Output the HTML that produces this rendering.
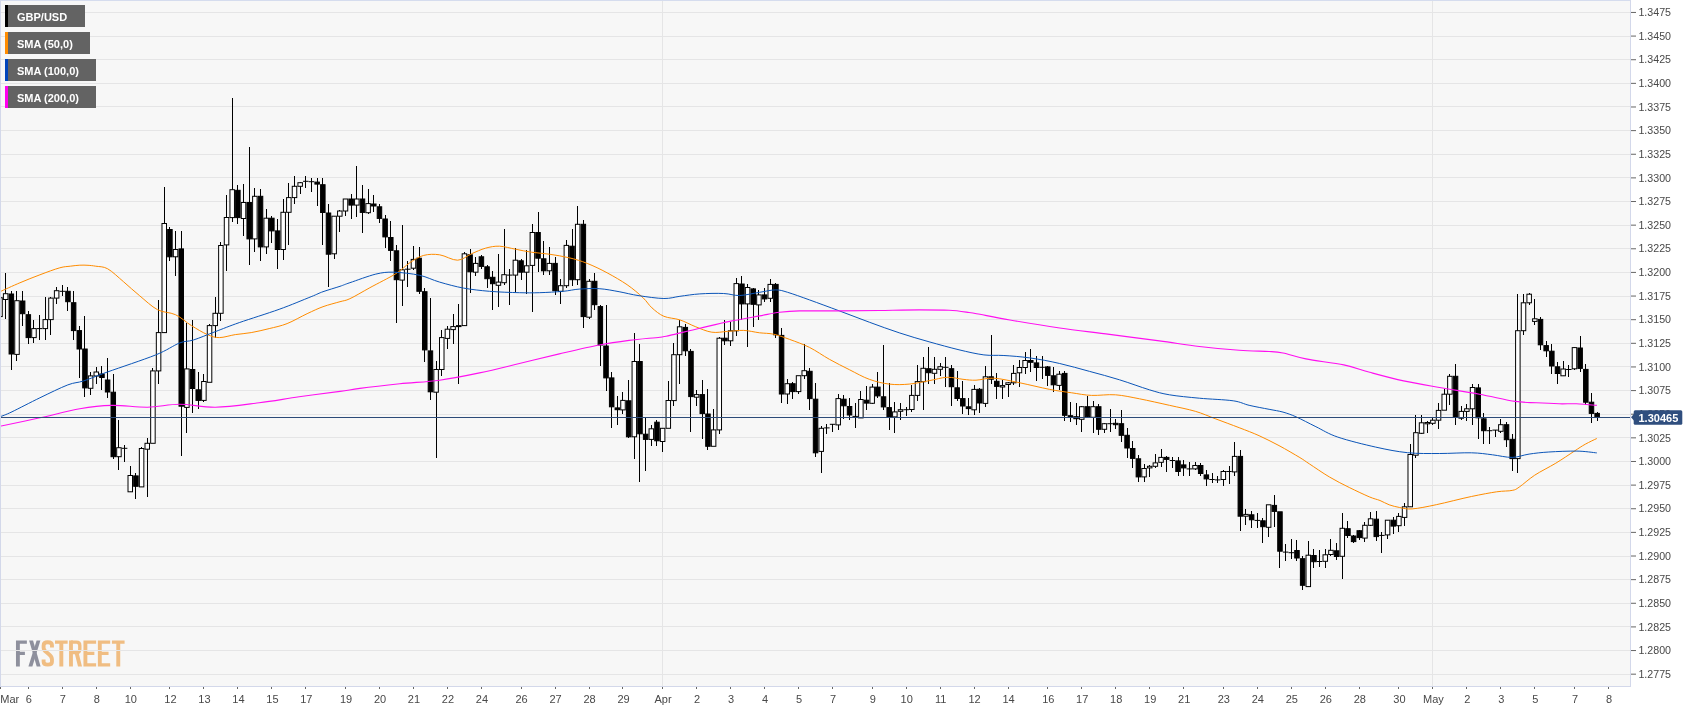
<!DOCTYPE html><html><head><meta charset="utf-8"><title>GBP/USD</title><style>
html,body{margin:0;padding:0;background:#fff;}body{width:1707px;height:712px;overflow:hidden;position:relative;font-family:"Liberation Sans",sans-serif;}
svg{position:absolute;left:0;top:0;display:block;will-change:transform}
.ax{font-family:"Liberation Sans",sans-serif;font-size:10.67px;fill:#484848}
.lg{font-family:"Liberation Sans",sans-serif;font-size:11px;font-weight:bold;fill:#fff}
</style></head><body>
<svg width="1707" height="712" viewBox="0 0 1707 712">
<rect x="0" y="0" width="1707" height="712" fill="#fff"/>
<rect x="0" y="0" width="1631" height="687" fill="#f7f7f7"/>
<g transform="translate(10,634) scale(0.0703)">
<g fill="#8e909d">
<path d="M85,92 H240 V138 H140 V252 H212 V298 H140 V462 H85 Z"/>
<path d="M272,92 H328 L435,462 H380 Z"/>
<path d="M378,92 H432 L318,462 H262 Z"/>
</g>
<g fill="#f0bd82">
<path d="M597,192 L597,160 Q597,118 537,118 Q478,118 478,162 L478,195 Q478,228 520,260 L558,292 Q597,324 597,362 L597,394 Q597,436 537,436 Q478,436 478,394 L478,362" fill="none" stroke="#f0bd82" stroke-width="55"/>
<path d="M640,92 H820 V138 H758 V462 H702 V138 H640 Z"/>
<path d="M840,92 H895 V462 H840 Z"/>
<path d="M868,115 L945,115 Q993,115 993,163 L993,217 Q993,265 945,265 L868,265" fill="none" stroke="#f0bd82" stroke-width="48"/>
<path d="M922,280 L975,268 L1024,462 L967,462 Z"/>
<path d="M1045,92 H1225 V138 H1100 V252 H1200 V298 H1100 V416 H1225 V462 H1045 Z"/>
<path d="M1250,92 H1425 V138 H1305 V252 H1402 V298 H1305 V416 H1425 V462 H1250 Z"/>
<path d="M1450,92 H1630 V138 H1568 V462 H1512 V138 H1450 Z"/>
</g>
</g>

<g fill="#e5e5e6" shape-rendering="crispEdges">
<rect x="1" y="12" width="1629" height="1"/>
<rect x="1" y="36" width="1629" height="1"/>
<rect x="1" y="59" width="1629" height="1"/>
<rect x="1" y="83" width="1629" height="1"/>
<rect x="1" y="106" width="1629" height="1"/>
<rect x="1" y="130" width="1629" height="1"/>
<rect x="1" y="154" width="1629" height="1"/>
<rect x="1" y="177" width="1629" height="1"/>
<rect x="1" y="201" width="1629" height="1"/>
<rect x="1" y="225" width="1629" height="1"/>
<rect x="1" y="248" width="1629" height="1"/>
<rect x="1" y="272" width="1629" height="1"/>
<rect x="1" y="296" width="1629" height="1"/>
<rect x="1" y="319" width="1629" height="1"/>
<rect x="1" y="343" width="1629" height="1"/>
<rect x="1" y="366" width="1629" height="1"/>
<rect x="1" y="390" width="1629" height="1"/>
<rect x="1" y="414" width="1629" height="1"/>
<rect x="1" y="437" width="1629" height="1"/>
<rect x="1" y="461" width="1629" height="1"/>
<rect x="1" y="485" width="1629" height="1"/>
<rect x="1" y="508" width="1629" height="1"/>
<rect x="1" y="532" width="1629" height="1"/>
<rect x="1" y="556" width="1629" height="1"/>
<rect x="1" y="579" width="1629" height="1"/>
<rect x="1" y="603" width="1629" height="1"/>
<rect x="1" y="626" width="1629" height="1"/>
<rect x="1" y="650" width="1629" height="1"/>
<rect x="1" y="674" width="1629" height="1"/>
<rect x="662" y="1" width="1" height="685"/>
<rect x="1432" y="1" width="1" height="685"/>
</g>
<g id="candles">
<rect x="0" y="290.0" width="1" height="30.0" fill="#000" shape-rendering="crispEdges"/>
<rect x="-2.25" y="297.7" width="4.5" height="18.9" fill="#fff" stroke="#000" stroke-width="1"/>
<rect x="5" y="273.4" width="1" height="45.6" fill="#000" shape-rendering="crispEdges"/>
<rect x="3.41" y="293.7" width="4.5" height="5.8" fill="#fff" stroke="#000" stroke-width="1"/>
<rect x="11" y="290.7" width="1" height="78.8" fill="#000" shape-rendering="crispEdges"/>
<rect x="9.08" y="294.0" width="4.5" height="60.0" fill="#000" stroke="#000" stroke-width="1"/>
<rect x="16" y="290.7" width="1" height="70.3" fill="#000" shape-rendering="crispEdges"/>
<rect x="14.74" y="300.7" width="4.5" height="53.7" fill="#fff" stroke="#000" stroke-width="1"/>
<rect x="22" y="290.7" width="1" height="34.9" fill="#000" shape-rendering="crispEdges"/>
<rect x="20.40" y="301.0" width="4.5" height="12.7" fill="#000" stroke="#000" stroke-width="1"/>
<rect x="28" y="310.7" width="1" height="33.3" fill="#000" shape-rendering="crispEdges"/>
<rect x="26.07" y="314.7" width="4.5" height="22.9" fill="#000" stroke="#000" stroke-width="1"/>
<rect x="33" y="319.6" width="1" height="23.4" fill="#000" shape-rendering="crispEdges"/>
<rect x="31.73" y="328.6" width="4.5" height="9.0" fill="#fff" stroke="#000" stroke-width="1"/>
<rect x="39" y="314.7" width="1" height="24.9" fill="#000" shape-rendering="crispEdges"/>
<rect x="36.90" y="328.1" width="5.5" height="1" fill="#000"/>
<rect x="45" y="296.7" width="1" height="42.9" fill="#000" shape-rendering="crispEdges"/>
<rect x="43.06" y="319.6" width="4.5" height="9.0" fill="#fff" stroke="#000" stroke-width="1"/>
<rect x="50" y="296.7" width="1" height="37.9" fill="#000" shape-rendering="crispEdges"/>
<rect x="48.72" y="298.1" width="4.5" height="21.5" fill="#fff" stroke="#000" stroke-width="1"/>
<rect x="56" y="287.1" width="1" height="16.6" fill="#000" shape-rendering="crispEdges"/>
<rect x="54.39" y="290.7" width="4.5" height="7.4" fill="#fff" stroke="#000" stroke-width="1"/>
<rect x="62" y="285.3" width="1" height="10.4" fill="#000" shape-rendering="crispEdges"/>
<rect x="59.55" y="290.8" width="5.5" height="1" fill="#000"/>
<rect x="67" y="287.1" width="1" height="24.2" fill="#000" shape-rendering="crispEdges"/>
<rect x="65.71" y="291.3" width="4.5" height="10.4" fill="#000" stroke="#000" stroke-width="1"/>
<rect x="73" y="291.3" width="1" height="48.3" fill="#000" shape-rendering="crispEdges"/>
<rect x="71.38" y="302.7" width="4.5" height="27.9" fill="#000" stroke="#000" stroke-width="1"/>
<rect x="79" y="326.0" width="1" height="52.0" fill="#000" shape-rendering="crispEdges"/>
<rect x="77.04" y="330.6" width="4.5" height="18.4" fill="#000" stroke="#000" stroke-width="1"/>
<rect x="84" y="316.4" width="1" height="81.0" fill="#000" shape-rendering="crispEdges"/>
<rect x="82.70" y="349.0" width="4.5" height="38.9" fill="#000" stroke="#000" stroke-width="1"/>
<rect x="90" y="372.0" width="1" height="23.4" fill="#000" shape-rendering="crispEdges"/>
<rect x="88.37" y="375.9" width="4.5" height="12.4" fill="#fff" stroke="#000" stroke-width="1"/>
<rect x="96" y="367.0" width="1" height="17.3" fill="#000" shape-rendering="crispEdges"/>
<rect x="94.03" y="372.0" width="4.5" height="4.0" fill="#fff" stroke="#000" stroke-width="1"/>
<rect x="101" y="366.0" width="1" height="24.0" fill="#000" shape-rendering="crispEdges"/>
<rect x="99.69" y="374.0" width="4.5" height="3.5" fill="#000" stroke="#000" stroke-width="1"/>
<rect x="107" y="358.3" width="1" height="39.9" fill="#000" shape-rendering="crispEdges"/>
<rect x="105.36" y="380.0" width="4.5" height="12.0" fill="#000" stroke="#000" stroke-width="1"/>
<rect x="113" y="374.3" width="1" height="84.9" fill="#000" shape-rendering="crispEdges"/>
<rect x="111.02" y="392.2" width="4.5" height="64.5" fill="#000" stroke="#000" stroke-width="1"/>
<rect x="118" y="420.4" width="1" height="49.9" fill="#000" shape-rendering="crispEdges"/>
<rect x="116.69" y="447.7" width="4.5" height="9.0" fill="#fff" stroke="#000" stroke-width="1"/>
<rect x="124" y="445.3" width="1" height="17.0" fill="#000" shape-rendering="crispEdges"/>
<rect x="121.85" y="447.8" width="5.5" height="1" fill="#000"/>
<rect x="130" y="466.2" width="1" height="25.6" fill="#000" shape-rendering="crispEdges"/>
<rect x="128.01" y="475.5" width="4.5" height="16.3" fill="#fff" stroke="#000" stroke-width="1"/>
<rect x="135" y="473.3" width="1" height="26.1" fill="#000" shape-rendering="crispEdges"/>
<rect x="133.68" y="475.9" width="4.5" height="10.4" fill="#000" stroke="#000" stroke-width="1"/>
<rect x="141" y="446.5" width="1" height="40.4" fill="#000" shape-rendering="crispEdges"/>
<rect x="139.34" y="448.5" width="4.5" height="38.4" fill="#fff" stroke="#000" stroke-width="1"/>
<rect x="147" y="438.3" width="1" height="59.1" fill="#000" shape-rendering="crispEdges"/>
<rect x="145.00" y="443.3" width="4.5" height="5.9" fill="#fff" stroke="#000" stroke-width="1"/>
<rect x="152" y="367.5" width="1" height="75.8" fill="#000" shape-rendering="crispEdges"/>
<rect x="150.67" y="370.9" width="4.5" height="72.4" fill="#fff" stroke="#000" stroke-width="1"/>
<rect x="158" y="299.7" width="1" height="83.8" fill="#000" shape-rendering="crispEdges"/>
<rect x="156.33" y="332.6" width="4.5" height="38.3" fill="#fff" stroke="#000" stroke-width="1"/>
<rect x="164" y="187.3" width="1" height="145.3" fill="#000" shape-rendering="crispEdges"/>
<rect x="161.99" y="223.5" width="4.5" height="109.1" fill="#fff" stroke="#000" stroke-width="1"/>
<rect x="169" y="226.9" width="1" height="34.5" fill="#000" shape-rendering="crispEdges"/>
<rect x="167.66" y="229.5" width="4.5" height="27.3" fill="#000" stroke="#000" stroke-width="1"/>
<rect x="175" y="230.9" width="1" height="45.3" fill="#000" shape-rendering="crispEdges"/>
<rect x="173.32" y="249.5" width="4.5" height="7.3" fill="#fff" stroke="#000" stroke-width="1"/>
<rect x="181" y="230.9" width="1" height="225.4" fill="#000" shape-rendering="crispEdges"/>
<rect x="178.99" y="248.9" width="4.5" height="157.3" fill="#000" stroke="#000" stroke-width="1"/>
<rect x="186" y="322.6" width="1" height="110.7" fill="#000" shape-rendering="crispEdges"/>
<rect x="184.65" y="368.9" width="4.5" height="38.5" fill="#fff" stroke="#000" stroke-width="1"/>
<rect x="192" y="319.6" width="1" height="93.8" fill="#000" shape-rendering="crispEdges"/>
<rect x="190.31" y="369.5" width="4.5" height="19.0" fill="#000" stroke="#000" stroke-width="1"/>
<rect x="198" y="372.3" width="1" height="37.1" fill="#000" shape-rendering="crispEdges"/>
<rect x="195.98" y="389.8" width="4.5" height="10.6" fill="#000" stroke="#000" stroke-width="1"/>
<rect x="203" y="374.3" width="1" height="27.5" fill="#000" shape-rendering="crispEdges"/>
<rect x="201.64" y="381.5" width="4.5" height="18.9" fill="#fff" stroke="#000" stroke-width="1"/>
<rect x="209" y="323.6" width="1" height="58.7" fill="#000" shape-rendering="crispEdges"/>
<rect x="207.30" y="325.6" width="4.5" height="56.7" fill="#fff" stroke="#000" stroke-width="1"/>
<rect x="215" y="296.7" width="1" height="40.9" fill="#000" shape-rendering="crispEdges"/>
<rect x="212.97" y="313.3" width="4.5" height="12.3" fill="#fff" stroke="#000" stroke-width="1"/>
<rect x="220" y="242.3" width="1" height="78.9" fill="#000" shape-rendering="crispEdges"/>
<rect x="218.63" y="245.5" width="4.5" height="67.8" fill="#fff" stroke="#000" stroke-width="1"/>
<rect x="226" y="195.3" width="1" height="75.5" fill="#000" shape-rendering="crispEdges"/>
<rect x="224.29" y="217.5" width="4.5" height="27.4" fill="#fff" stroke="#000" stroke-width="1"/>
<rect x="232" y="98.3" width="1" height="123.7" fill="#000" shape-rendering="crispEdges"/>
<rect x="229.96" y="189.7" width="4.5" height="27.9" fill="#fff" stroke="#000" stroke-width="1"/>
<rect x="237" y="185.3" width="1" height="38.7" fill="#000" shape-rendering="crispEdges"/>
<rect x="235.62" y="190.3" width="4.5" height="27.3" fill="#000" stroke="#000" stroke-width="1"/>
<rect x="243" y="184.1" width="1" height="51.4" fill="#000" shape-rendering="crispEdges"/>
<rect x="241.28" y="202.5" width="4.5" height="16.0" fill="#fff" stroke="#000" stroke-width="1"/>
<rect x="249" y="147.4" width="1" height="117.4" fill="#000" shape-rendering="crispEdges"/>
<rect x="246.95" y="202.5" width="4.5" height="36.4" fill="#000" stroke="#000" stroke-width="1"/>
<rect x="254" y="187.7" width="1" height="64.5" fill="#000" shape-rendering="crispEdges"/>
<rect x="252.61" y="196.3" width="4.5" height="42.6" fill="#fff" stroke="#000" stroke-width="1"/>
<rect x="260" y="189.3" width="1" height="71.5" fill="#000" shape-rendering="crispEdges"/>
<rect x="258.28" y="196.3" width="4.5" height="50.6" fill="#000" stroke="#000" stroke-width="1"/>
<rect x="266" y="208.8" width="1" height="45.0" fill="#000" shape-rendering="crispEdges"/>
<rect x="263.94" y="218.2" width="4.5" height="28.7" fill="#fff" stroke="#000" stroke-width="1"/>
<rect x="271" y="215.6" width="1" height="27.3" fill="#000" shape-rendering="crispEdges"/>
<rect x="269.60" y="218.2" width="4.5" height="12.7" fill="#000" stroke="#000" stroke-width="1"/>
<rect x="277" y="218.5" width="1" height="50.3" fill="#000" shape-rendering="crispEdges"/>
<rect x="275.27" y="230.9" width="4.5" height="18.6" fill="#000" stroke="#000" stroke-width="1"/>
<rect x="283" y="198.6" width="1" height="61.2" fill="#000" shape-rendering="crispEdges"/>
<rect x="280.93" y="212.3" width="4.5" height="37.2" fill="#fff" stroke="#000" stroke-width="1"/>
<rect x="288" y="183.3" width="1" height="61.6" fill="#000" shape-rendering="crispEdges"/>
<rect x="286.59" y="197.6" width="4.5" height="14.7" fill="#fff" stroke="#000" stroke-width="1"/>
<rect x="294" y="176.3" width="1" height="27.7" fill="#000" shape-rendering="crispEdges"/>
<rect x="292.26" y="186.3" width="4.5" height="11.3" fill="#fff" stroke="#000" stroke-width="1"/>
<rect x="300" y="181.7" width="1" height="12.0" fill="#000" shape-rendering="crispEdges"/>
<rect x="297.92" y="182.7" width="4.5" height="3.6" fill="#fff" stroke="#000" stroke-width="1"/>
<rect x="305" y="176.3" width="1" height="11.4" fill="#000" shape-rendering="crispEdges"/>
<rect x="303.08" y="180.8" width="5.5" height="1" fill="#000"/>
<rect x="311" y="177.7" width="1" height="14.0" fill="#000" shape-rendering="crispEdges"/>
<rect x="308.75" y="181.2" width="5.5" height="1" fill="#000"/>
<rect x="317" y="177.7" width="1" height="27.9" fill="#000" shape-rendering="crispEdges"/>
<rect x="314.91" y="182.1" width="4.5" height="2.0" fill="#000" stroke="#000" stroke-width="1"/>
<rect x="322" y="177.7" width="1" height="67.3" fill="#000" shape-rendering="crispEdges"/>
<rect x="320.58" y="184.7" width="4.5" height="27.8" fill="#000" stroke="#000" stroke-width="1"/>
<rect x="328" y="203.6" width="1" height="83.3" fill="#000" shape-rendering="crispEdges"/>
<rect x="326.24" y="213.0" width="4.5" height="41.2" fill="#000" stroke="#000" stroke-width="1"/>
<rect x="334" y="216.2" width="1" height="42.6" fill="#000" shape-rendering="crispEdges"/>
<rect x="331.90" y="216.2" width="4.5" height="37.6" fill="#fff" stroke="#000" stroke-width="1"/>
<rect x="339" y="209.5" width="1" height="22.4" fill="#000" shape-rendering="crispEdges"/>
<rect x="337.57" y="211.0" width="4.5" height="5.2" fill="#fff" stroke="#000" stroke-width="1"/>
<rect x="345" y="199.0" width="1" height="16.8" fill="#000" shape-rendering="crispEdges"/>
<rect x="343.23" y="199.0" width="4.5" height="12.0" fill="#fff" stroke="#000" stroke-width="1"/>
<rect x="351" y="194.3" width="1" height="24.9" fill="#000" shape-rendering="crispEdges"/>
<rect x="348.89" y="199.0" width="4.5" height="6.1" fill="#000" stroke="#000" stroke-width="1"/>
<rect x="356" y="166.3" width="1" height="50.9" fill="#000" shape-rendering="crispEdges"/>
<rect x="354.56" y="199.0" width="4.5" height="6.1" fill="#fff" stroke="#000" stroke-width="1"/>
<rect x="362" y="185.3" width="1" height="47.6" fill="#000" shape-rendering="crispEdges"/>
<rect x="360.22" y="199.0" width="4.5" height="13.4" fill="#000" stroke="#000" stroke-width="1"/>
<rect x="368" y="188.7" width="1" height="25.3" fill="#000" shape-rendering="crispEdges"/>
<rect x="365.88" y="203.6" width="4.5" height="9.1" fill="#fff" stroke="#000" stroke-width="1"/>
<rect x="373" y="195.4" width="1" height="16.1" fill="#000" shape-rendering="crispEdges"/>
<rect x="371.55" y="204.0" width="4.5" height="2.0" fill="#000" stroke="#000" stroke-width="1"/>
<rect x="379" y="204.2" width="1" height="18.3" fill="#000" shape-rendering="crispEdges"/>
<rect x="377.21" y="206.8" width="4.5" height="11.6" fill="#000" stroke="#000" stroke-width="1"/>
<rect x="385" y="214.8" width="1" height="33.0" fill="#000" shape-rendering="crispEdges"/>
<rect x="382.87" y="219.0" width="4.5" height="17.9" fill="#000" stroke="#000" stroke-width="1"/>
<rect x="390" y="220.9" width="1" height="39.9" fill="#000" shape-rendering="crispEdges"/>
<rect x="388.54" y="237.5" width="4.5" height="12.9" fill="#000" stroke="#000" stroke-width="1"/>
<rect x="396" y="244.8" width="1" height="78.4" fill="#000" shape-rendering="crispEdges"/>
<rect x="394.20" y="250.8" width="4.5" height="28.9" fill="#000" stroke="#000" stroke-width="1"/>
<rect x="402" y="224.9" width="1" height="81.4" fill="#000" shape-rendering="crispEdges"/>
<rect x="399.87" y="269.8" width="4.5" height="10.3" fill="#fff" stroke="#000" stroke-width="1"/>
<rect x="407" y="260.8" width="1" height="26.3" fill="#000" shape-rendering="crispEdges"/>
<rect x="405.03" y="268.7" width="5.5" height="1" fill="#000"/>
<rect x="413" y="245.8" width="1" height="24.0" fill="#000" shape-rendering="crispEdges"/>
<rect x="411.19" y="259.4" width="4.5" height="8.8" fill="#fff" stroke="#000" stroke-width="1"/>
<rect x="419" y="246.8" width="1" height="46.9" fill="#000" shape-rendering="crispEdges"/>
<rect x="416.86" y="258.2" width="4.5" height="33.1" fill="#000" stroke="#000" stroke-width="1"/>
<rect x="424" y="287.7" width="1" height="73.8" fill="#000" shape-rendering="crispEdges"/>
<rect x="422.52" y="291.7" width="4.5" height="58.2" fill="#000" stroke="#000" stroke-width="1"/>
<rect x="430" y="297.7" width="1" height="102.5" fill="#000" shape-rendering="crispEdges"/>
<rect x="428.18" y="350.9" width="4.5" height="40.9" fill="#000" stroke="#000" stroke-width="1"/>
<rect x="436" y="360.9" width="1" height="97.3" fill="#000" shape-rendering="crispEdges"/>
<rect x="433.85" y="369.5" width="4.5" height="22.7" fill="#fff" stroke="#000" stroke-width="1"/>
<rect x="441" y="329.6" width="1" height="46.7" fill="#000" shape-rendering="crispEdges"/>
<rect x="439.51" y="337.6" width="4.5" height="31.9" fill="#fff" stroke="#000" stroke-width="1"/>
<rect x="447" y="325.6" width="1" height="23.3" fill="#000" shape-rendering="crispEdges"/>
<rect x="445.17" y="329.2" width="4.5" height="9.2" fill="#fff" stroke="#000" stroke-width="1"/>
<rect x="453" y="313.6" width="1" height="30.0" fill="#000" shape-rendering="crispEdges"/>
<rect x="450.84" y="326.6" width="4.5" height="3.0" fill="#fff" stroke="#000" stroke-width="1"/>
<rect x="458" y="304.3" width="1" height="79.9" fill="#000" shape-rendering="crispEdges"/>
<rect x="456.50" y="325.6" width="4.5" height="1.0" fill="#fff" stroke="#000" stroke-width="1"/>
<rect x="464" y="252.2" width="1" height="73.4" fill="#000" shape-rendering="crispEdges"/>
<rect x="462.17" y="253.8" width="4.5" height="71.8" fill="#fff" stroke="#000" stroke-width="1"/>
<rect x="470" y="249.4" width="1" height="43.9" fill="#000" shape-rendering="crispEdges"/>
<rect x="467.83" y="254.8" width="4.5" height="17.0" fill="#000" stroke="#000" stroke-width="1"/>
<rect x="475" y="257.4" width="1" height="18.7" fill="#000" shape-rendering="crispEdges"/>
<rect x="473.49" y="263.4" width="4.5" height="8.8" fill="#fff" stroke="#000" stroke-width="1"/>
<rect x="481" y="254.8" width="1" height="14.0" fill="#000" shape-rendering="crispEdges"/>
<rect x="479.16" y="256.8" width="4.5" height="9.6" fill="#000" stroke="#000" stroke-width="1"/>
<rect x="487" y="265.4" width="1" height="22.3" fill="#000" shape-rendering="crispEdges"/>
<rect x="484.82" y="266.8" width="4.5" height="11.9" fill="#000" stroke="#000" stroke-width="1"/>
<rect x="492" y="271.4" width="1" height="38.8" fill="#000" shape-rendering="crispEdges"/>
<rect x="490.48" y="277.3" width="4.5" height="6.4" fill="#000" stroke="#000" stroke-width="1"/>
<rect x="498" y="254.4" width="1" height="52.8" fill="#000" shape-rendering="crispEdges"/>
<rect x="496.15" y="282.1" width="4.5" height="3.2" fill="#fff" stroke="#000" stroke-width="1"/>
<rect x="504" y="228.5" width="1" height="56.8" fill="#000" shape-rendering="crispEdges"/>
<rect x="501.81" y="274.7" width="4.5" height="8.0" fill="#fff" stroke="#000" stroke-width="1"/>
<rect x="509" y="268.8" width="1" height="36.5" fill="#000" shape-rendering="crispEdges"/>
<rect x="506.97" y="274.6" width="5.5" height="1" fill="#000"/>
<rect x="515" y="248.2" width="1" height="43.5" fill="#000" shape-rendering="crispEdges"/>
<rect x="513.14" y="260.2" width="4.5" height="14.9" fill="#fff" stroke="#000" stroke-width="1"/>
<rect x="521" y="258.8" width="1" height="20.9" fill="#000" shape-rendering="crispEdges"/>
<rect x="518.80" y="260.8" width="4.5" height="11.4" fill="#000" stroke="#000" stroke-width="1"/>
<rect x="526" y="249.8" width="1" height="43.9" fill="#000" shape-rendering="crispEdges"/>
<rect x="524.46" y="265.8" width="4.5" height="6.4" fill="#fff" stroke="#000" stroke-width="1"/>
<rect x="532" y="223.5" width="1" height="88.5" fill="#000" shape-rendering="crispEdges"/>
<rect x="530.13" y="232.5" width="4.5" height="32.9" fill="#fff" stroke="#000" stroke-width="1"/>
<rect x="538" y="212.3" width="1" height="59.9" fill="#000" shape-rendering="crispEdges"/>
<rect x="535.79" y="232.5" width="4.5" height="25.7" fill="#000" stroke="#000" stroke-width="1"/>
<rect x="543" y="241.4" width="1" height="33.3" fill="#000" shape-rendering="crispEdges"/>
<rect x="541.46" y="258.8" width="4.5" height="12.0" fill="#000" stroke="#000" stroke-width="1"/>
<rect x="549" y="247.4" width="1" height="27.3" fill="#000" shape-rendering="crispEdges"/>
<rect x="547.12" y="263.4" width="4.5" height="7.4" fill="#fff" stroke="#000" stroke-width="1"/>
<rect x="555" y="256.8" width="1" height="38.5" fill="#000" shape-rendering="crispEdges"/>
<rect x="552.78" y="263.4" width="4.5" height="27.3" fill="#000" stroke="#000" stroke-width="1"/>
<rect x="560" y="278.7" width="1" height="25.6" fill="#000" shape-rendering="crispEdges"/>
<rect x="558.45" y="285.7" width="4.5" height="5.6" fill="#fff" stroke="#000" stroke-width="1"/>
<rect x="566" y="240.2" width="1" height="47.5" fill="#000" shape-rendering="crispEdges"/>
<rect x="564.11" y="245.4" width="4.5" height="40.3" fill="#fff" stroke="#000" stroke-width="1"/>
<rect x="572" y="228.5" width="1" height="57.2" fill="#000" shape-rendering="crispEdges"/>
<rect x="569.77" y="246.2" width="4.5" height="33.5" fill="#000" stroke="#000" stroke-width="1"/>
<rect x="577" y="206.4" width="1" height="78.9" fill="#000" shape-rendering="crispEdges"/>
<rect x="575.44" y="224.3" width="4.5" height="55.4" fill="#fff" stroke="#000" stroke-width="1"/>
<rect x="583" y="219.5" width="1" height="108.1" fill="#000" shape-rendering="crispEdges"/>
<rect x="581.10" y="224.3" width="4.5" height="92.3" fill="#000" stroke="#000" stroke-width="1"/>
<rect x="589" y="278.7" width="1" height="40.5" fill="#000" shape-rendering="crispEdges"/>
<rect x="586.76" y="281.3" width="4.5" height="35.9" fill="#fff" stroke="#000" stroke-width="1"/>
<rect x="594" y="272.8" width="1" height="37.4" fill="#000" shape-rendering="crispEdges"/>
<rect x="592.43" y="281.3" width="4.5" height="23.4" fill="#000" stroke="#000" stroke-width="1"/>
<rect x="600" y="304.7" width="1" height="60.8" fill="#000" shape-rendering="crispEdges"/>
<rect x="598.09" y="306.6" width="4.5" height="38.4" fill="#000" stroke="#000" stroke-width="1"/>
<rect x="606" y="305.3" width="1" height="85.5" fill="#000" shape-rendering="crispEdges"/>
<rect x="603.76" y="346.0" width="4.5" height="31.9" fill="#000" stroke="#000" stroke-width="1"/>
<rect x="611" y="372.3" width="1" height="55.9" fill="#000" shape-rendering="crispEdges"/>
<rect x="609.42" y="377.9" width="4.5" height="28.9" fill="#000" stroke="#000" stroke-width="1"/>
<rect x="617" y="395.8" width="1" height="29.6" fill="#000" shape-rendering="crispEdges"/>
<rect x="615.08" y="407.9" width="4.5" height="1.8" fill="#000" stroke="#000" stroke-width="1"/>
<rect x="622" y="391.8" width="1" height="21.7" fill="#000" shape-rendering="crispEdges"/>
<rect x="620.75" y="400.4" width="4.5" height="9.5" fill="#fff" stroke="#000" stroke-width="1"/>
<rect x="628" y="379.5" width="1" height="58.1" fill="#000" shape-rendering="crispEdges"/>
<rect x="626.41" y="400.8" width="4.5" height="36.0" fill="#000" stroke="#000" stroke-width="1"/>
<rect x="634" y="333.0" width="1" height="126.3" fill="#000" shape-rendering="crispEdges"/>
<rect x="632.07" y="361.5" width="4.5" height="75.3" fill="#fff" stroke="#000" stroke-width="1"/>
<rect x="639" y="344.4" width="1" height="137.8" fill="#000" shape-rendering="crispEdges"/>
<rect x="637.74" y="361.5" width="4.5" height="72.3" fill="#000" stroke="#000" stroke-width="1"/>
<rect x="645" y="416.8" width="1" height="54.6" fill="#000" shape-rendering="crispEdges"/>
<rect x="643.40" y="434.2" width="4.5" height="5.2" fill="#000" stroke="#000" stroke-width="1"/>
<rect x="651" y="425.4" width="1" height="21.0" fill="#000" shape-rendering="crispEdges"/>
<rect x="649.06" y="428.8" width="4.5" height="10.6" fill="#fff" stroke="#000" stroke-width="1"/>
<rect x="656" y="419.8" width="1" height="26.6" fill="#000" shape-rendering="crispEdges"/>
<rect x="654.73" y="422.2" width="4.5" height="18.6" fill="#000" stroke="#000" stroke-width="1"/>
<rect x="662" y="428.3" width="1" height="23.9" fill="#000" shape-rendering="crispEdges"/>
<rect x="660.39" y="428.3" width="4.5" height="13.2" fill="#fff" stroke="#000" stroke-width="1"/>
<rect x="668" y="380.7" width="1" height="47.6" fill="#000" shape-rendering="crispEdges"/>
<rect x="666.05" y="400.5" width="4.5" height="27.8" fill="#fff" stroke="#000" stroke-width="1"/>
<rect x="673" y="342.8" width="1" height="63.2" fill="#000" shape-rendering="crispEdges"/>
<rect x="671.72" y="354.7" width="4.5" height="45.9" fill="#fff" stroke="#000" stroke-width="1"/>
<rect x="679" y="319.5" width="1" height="64.6" fill="#000" shape-rendering="crispEdges"/>
<rect x="677.38" y="326.8" width="4.5" height="27.9" fill="#fff" stroke="#000" stroke-width="1"/>
<rect x="685" y="323.8" width="1" height="31.9" fill="#000" shape-rendering="crispEdges"/>
<rect x="683.05" y="327.4" width="4.5" height="23.4" fill="#000" stroke="#000" stroke-width="1"/>
<rect x="690" y="348.8" width="1" height="83.5" fill="#000" shape-rendering="crispEdges"/>
<rect x="688.71" y="351.4" width="4.5" height="45.2" fill="#000" stroke="#000" stroke-width="1"/>
<rect x="696" y="389.6" width="1" height="16.4" fill="#000" shape-rendering="crispEdges"/>
<rect x="694.37" y="394.6" width="4.5" height="2.6" fill="#fff" stroke="#000" stroke-width="1"/>
<rect x="702" y="379.7" width="1" height="59.2" fill="#000" shape-rendering="crispEdges"/>
<rect x="700.04" y="394.6" width="4.5" height="19.0" fill="#000" stroke="#000" stroke-width="1"/>
<rect x="707" y="388.6" width="1" height="60.9" fill="#000" shape-rendering="crispEdges"/>
<rect x="705.70" y="414.0" width="4.5" height="32.3" fill="#000" stroke="#000" stroke-width="1"/>
<rect x="713" y="408.5" width="1" height="37.8" fill="#000" shape-rendering="crispEdges"/>
<rect x="711.36" y="429.9" width="4.5" height="16.4" fill="#fff" stroke="#000" stroke-width="1"/>
<rect x="719" y="336.8" width="1" height="97.5" fill="#000" shape-rendering="crispEdges"/>
<rect x="717.03" y="338.2" width="4.5" height="91.7" fill="#fff" stroke="#000" stroke-width="1"/>
<rect x="724" y="319.9" width="1" height="24.9" fill="#000" shape-rendering="crispEdges"/>
<rect x="722.69" y="338.2" width="4.5" height="2.6" fill="#000" stroke="#000" stroke-width="1"/>
<rect x="730" y="322.2" width="1" height="24.0" fill="#000" shape-rendering="crispEdges"/>
<rect x="728.35" y="330.8" width="4.5" height="10.0" fill="#fff" stroke="#000" stroke-width="1"/>
<rect x="736" y="278.4" width="1" height="57.8" fill="#000" shape-rendering="crispEdges"/>
<rect x="734.02" y="283.6" width="4.5" height="47.2" fill="#fff" stroke="#000" stroke-width="1"/>
<rect x="741" y="275.6" width="1" height="44.3" fill="#000" shape-rendering="crispEdges"/>
<rect x="739.68" y="284.0" width="4.5" height="19.9" fill="#000" stroke="#000" stroke-width="1"/>
<rect x="747" y="284.4" width="1" height="63.0" fill="#000" shape-rendering="crispEdges"/>
<rect x="745.35" y="287.5" width="4.5" height="16.4" fill="#fff" stroke="#000" stroke-width="1"/>
<rect x="753" y="287.5" width="1" height="39.9" fill="#000" shape-rendering="crispEdges"/>
<rect x="751.01" y="288.9" width="4.5" height="15.4" fill="#000" stroke="#000" stroke-width="1"/>
<rect x="758" y="289.5" width="1" height="30.7" fill="#000" shape-rendering="crispEdges"/>
<rect x="756.67" y="294.9" width="4.5" height="10.0" fill="#fff" stroke="#000" stroke-width="1"/>
<rect x="764" y="288.3" width="1" height="13.2" fill="#000" shape-rendering="crispEdges"/>
<rect x="762.34" y="294.9" width="4.5" height="4.0" fill="#000" stroke="#000" stroke-width="1"/>
<rect x="770" y="279.0" width="1" height="22.9" fill="#000" shape-rendering="crispEdges"/>
<rect x="768.00" y="284.4" width="4.5" height="13.9" fill="#fff" stroke="#000" stroke-width="1"/>
<rect x="775" y="283.0" width="1" height="55.2" fill="#000" shape-rendering="crispEdges"/>
<rect x="773.66" y="284.4" width="4.5" height="50.4" fill="#000" stroke="#000" stroke-width="1"/>
<rect x="781" y="328.2" width="1" height="74.4" fill="#000" shape-rendering="crispEdges"/>
<rect x="779.33" y="335.4" width="4.5" height="58.6" fill="#000" stroke="#000" stroke-width="1"/>
<rect x="787" y="378.7" width="1" height="25.3" fill="#000" shape-rendering="crispEdges"/>
<rect x="784.99" y="383.7" width="4.5" height="10.3" fill="#fff" stroke="#000" stroke-width="1"/>
<rect x="792" y="381.7" width="1" height="16.9" fill="#000" shape-rendering="crispEdges"/>
<rect x="790.65" y="383.7" width="4.5" height="7.9" fill="#000" stroke="#000" stroke-width="1"/>
<rect x="798" y="375.7" width="1" height="17.9" fill="#000" shape-rendering="crispEdges"/>
<rect x="796.32" y="375.7" width="4.5" height="15.9" fill="#fff" stroke="#000" stroke-width="1"/>
<rect x="804" y="344.2" width="1" height="34.5" fill="#000" shape-rendering="crispEdges"/>
<rect x="801.98" y="370.7" width="4.5" height="5.0" fill="#fff" stroke="#000" stroke-width="1"/>
<rect x="809" y="367.7" width="1" height="41.9" fill="#000" shape-rendering="crispEdges"/>
<rect x="807.64" y="371.3" width="4.5" height="27.3" fill="#000" stroke="#000" stroke-width="1"/>
<rect x="815" y="382.7" width="1" height="74.7" fill="#000" shape-rendering="crispEdges"/>
<rect x="813.31" y="399.2" width="4.5" height="53.6" fill="#000" stroke="#000" stroke-width="1"/>
<rect x="821" y="425.5" width="1" height="47.9" fill="#000" shape-rendering="crispEdges"/>
<rect x="818.97" y="428.3" width="4.5" height="23.1" fill="#fff" stroke="#000" stroke-width="1"/>
<rect x="826" y="423.5" width="1" height="10.4" fill="#000" shape-rendering="crispEdges"/>
<rect x="824.14" y="427.4" width="5.5" height="1" fill="#000"/>
<rect x="832" y="423.5" width="1" height="8.4" fill="#000" shape-rendering="crispEdges"/>
<rect x="829.80" y="423.8" width="5.5" height="1" fill="#000"/>
<rect x="838" y="393.6" width="1" height="36.3" fill="#000" shape-rendering="crispEdges"/>
<rect x="835.96" y="398.6" width="4.5" height="26.3" fill="#fff" stroke="#000" stroke-width="1"/>
<rect x="843" y="394.6" width="1" height="24.3" fill="#000" shape-rendering="crispEdges"/>
<rect x="841.63" y="399.2" width="4.5" height="6.6" fill="#000" stroke="#000" stroke-width="1"/>
<rect x="849" y="397.6" width="1" height="22.3" fill="#000" shape-rendering="crispEdges"/>
<rect x="847.29" y="406.5" width="4.5" height="8.5" fill="#000" stroke="#000" stroke-width="1"/>
<rect x="855" y="403.3" width="1" height="25.0" fill="#000" shape-rendering="crispEdges"/>
<rect x="852.45" y="415.9" width="5.5" height="1" fill="#000"/>
<rect x="860" y="390.6" width="1" height="27.3" fill="#000" shape-rendering="crispEdges"/>
<rect x="858.62" y="399.5" width="4.5" height="18.4" fill="#fff" stroke="#000" stroke-width="1"/>
<rect x="866" y="385.6" width="1" height="24.6" fill="#000" shape-rendering="crispEdges"/>
<rect x="864.28" y="400.2" width="4.5" height="2.9" fill="#000" stroke="#000" stroke-width="1"/>
<rect x="872" y="383.6" width="1" height="20.6" fill="#000" shape-rendering="crispEdges"/>
<rect x="869.94" y="387.1" width="4.5" height="16.2" fill="#fff" stroke="#000" stroke-width="1"/>
<rect x="877" y="371.7" width="1" height="26.3" fill="#000" shape-rendering="crispEdges"/>
<rect x="875.61" y="387.1" width="4.5" height="8.8" fill="#000" stroke="#000" stroke-width="1"/>
<rect x="883" y="345.4" width="1" height="64.1" fill="#000" shape-rendering="crispEdges"/>
<rect x="881.27" y="396.8" width="4.5" height="10.1" fill="#000" stroke="#000" stroke-width="1"/>
<rect x="889" y="383.4" width="1" height="46.8" fill="#000" shape-rendering="crispEdges"/>
<rect x="886.94" y="407.6" width="4.5" height="9.6" fill="#000" stroke="#000" stroke-width="1"/>
<rect x="894" y="401.5" width="1" height="31.6" fill="#000" shape-rendering="crispEdges"/>
<rect x="892.60" y="411.9" width="4.5" height="5.0" fill="#fff" stroke="#000" stroke-width="1"/>
<rect x="900" y="402.5" width="1" height="17.9" fill="#000" shape-rendering="crispEdges"/>
<rect x="898.26" y="409.7" width="4.5" height="1.6" fill="#fff" stroke="#000" stroke-width="1"/>
<rect x="906" y="406.5" width="1" height="9.9" fill="#000" shape-rendering="crispEdges"/>
<rect x="903.43" y="409.2" width="5.5" height="1" fill="#000"/>
<rect x="911" y="385.4" width="1" height="26.3" fill="#000" shape-rendering="crispEdges"/>
<rect x="909.59" y="395.4" width="4.5" height="14.1" fill="#fff" stroke="#000" stroke-width="1"/>
<rect x="917" y="364.7" width="1" height="36.3" fill="#000" shape-rendering="crispEdges"/>
<rect x="915.25" y="381.6" width="4.5" height="13.8" fill="#fff" stroke="#000" stroke-width="1"/>
<rect x="923" y="357.3" width="1" height="52.2" fill="#000" shape-rendering="crispEdges"/>
<rect x="920.92" y="368.3" width="4.5" height="13.4" fill="#fff" stroke="#000" stroke-width="1"/>
<rect x="928" y="346.8" width="1" height="37.5" fill="#000" shape-rendering="crispEdges"/>
<rect x="926.58" y="368.7" width="4.5" height="4.0" fill="#000" stroke="#000" stroke-width="1"/>
<rect x="934" y="357.3" width="1" height="27.0" fill="#000" shape-rendering="crispEdges"/>
<rect x="932.24" y="369.3" width="4.5" height="4.0" fill="#fff" stroke="#000" stroke-width="1"/>
<rect x="940" y="363.3" width="1" height="12.4" fill="#000" shape-rendering="crispEdges"/>
<rect x="937.91" y="366.7" width="4.5" height="2.6" fill="#fff" stroke="#000" stroke-width="1"/>
<rect x="945" y="357.3" width="1" height="30.0" fill="#000" shape-rendering="crispEdges"/>
<rect x="943.07" y="366.8" width="5.5" height="1" fill="#000"/>
<rect x="951" y="364.7" width="1" height="41.3" fill="#000" shape-rendering="crispEdges"/>
<rect x="949.23" y="368.7" width="4.5" height="18.0" fill="#000" stroke="#000" stroke-width="1"/>
<rect x="957" y="370.7" width="1" height="30.3" fill="#000" shape-rendering="crispEdges"/>
<rect x="954.90" y="387.8" width="4.5" height="10.7" fill="#000" stroke="#000" stroke-width="1"/>
<rect x="962" y="380.7" width="1" height="32.8" fill="#000" shape-rendering="crispEdges"/>
<rect x="960.56" y="398.6" width="4.5" height="7.4" fill="#000" stroke="#000" stroke-width="1"/>
<rect x="968" y="397.6" width="1" height="17.7" fill="#000" shape-rendering="crispEdges"/>
<rect x="966.23" y="406.8" width="4.5" height="1.8" fill="#000" stroke="#000" stroke-width="1"/>
<rect x="974" y="384.6" width="1" height="30.7" fill="#000" shape-rendering="crispEdges"/>
<rect x="971.89" y="389.4" width="4.5" height="20.4" fill="#fff" stroke="#000" stroke-width="1"/>
<rect x="979" y="387.6" width="1" height="25.7" fill="#000" shape-rendering="crispEdges"/>
<rect x="977.55" y="389.3" width="4.5" height="13.7" fill="#000" stroke="#000" stroke-width="1"/>
<rect x="985" y="365.5" width="1" height="41.8" fill="#000" shape-rendering="crispEdges"/>
<rect x="983.22" y="376.8" width="4.5" height="26.6" fill="#fff" stroke="#000" stroke-width="1"/>
<rect x="991" y="335.0" width="1" height="49.2" fill="#000" shape-rendering="crispEdges"/>
<rect x="988.88" y="376.8" width="4.5" height="2.4" fill="#000" stroke="#000" stroke-width="1"/>
<rect x="996" y="372.8" width="1" height="26.6" fill="#000" shape-rendering="crispEdges"/>
<rect x="994.54" y="381.3" width="4.5" height="5.1" fill="#000" stroke="#000" stroke-width="1"/>
<rect x="1002" y="380.4" width="1" height="18.2" fill="#000" shape-rendering="crispEdges"/>
<rect x="1000.21" y="385.6" width="4.5" height="1.4" fill="#fff" stroke="#000" stroke-width="1"/>
<rect x="1008" y="382.2" width="1" height="14.4" fill="#000" shape-rendering="crispEdges"/>
<rect x="1005.87" y="382.8" width="4.5" height="1.7" fill="#fff" stroke="#000" stroke-width="1"/>
<rect x="1013" y="364.9" width="1" height="19.7" fill="#000" shape-rendering="crispEdges"/>
<rect x="1011.53" y="373.4" width="4.5" height="9.4" fill="#fff" stroke="#000" stroke-width="1"/>
<rect x="1019" y="359.9" width="1" height="26.7" fill="#000" shape-rendering="crispEdges"/>
<rect x="1017.20" y="367.5" width="4.5" height="5.3" fill="#fff" stroke="#000" stroke-width="1"/>
<rect x="1025" y="351.9" width="1" height="21.9" fill="#000" shape-rendering="crispEdges"/>
<rect x="1022.86" y="360.5" width="4.5" height="7.0" fill="#fff" stroke="#000" stroke-width="1"/>
<rect x="1030" y="348.5" width="1" height="23.7" fill="#000" shape-rendering="crispEdges"/>
<rect x="1028.53" y="360.5" width="4.5" height="1.8" fill="#000" stroke="#000" stroke-width="1"/>
<rect x="1036" y="355.9" width="1" height="24.9" fill="#000" shape-rendering="crispEdges"/>
<rect x="1034.19" y="362.9" width="4.5" height="4.6" fill="#000" stroke="#000" stroke-width="1"/>
<rect x="1042" y="355.5" width="1" height="23.9" fill="#000" shape-rendering="crispEdges"/>
<rect x="1039.35" y="366.8" width="5.5" height="1" fill="#000"/>
<rect x="1047" y="365.5" width="1" height="20.3" fill="#000" shape-rendering="crispEdges"/>
<rect x="1045.52" y="366.9" width="4.5" height="8.5" fill="#000" stroke="#000" stroke-width="1"/>
<rect x="1053" y="366.9" width="1" height="25.3" fill="#000" shape-rendering="crispEdges"/>
<rect x="1051.18" y="375.8" width="4.5" height="9.0" fill="#000" stroke="#000" stroke-width="1"/>
<rect x="1059" y="370.8" width="1" height="19.4" fill="#000" shape-rendering="crispEdges"/>
<rect x="1056.84" y="374.2" width="4.5" height="11.2" fill="#fff" stroke="#000" stroke-width="1"/>
<rect x="1064" y="370.8" width="1" height="49.9" fill="#000" shape-rendering="crispEdges"/>
<rect x="1062.51" y="373.4" width="4.5" height="41.9" fill="#000" stroke="#000" stroke-width="1"/>
<rect x="1070" y="401.8" width="1" height="19.9" fill="#000" shape-rendering="crispEdges"/>
<rect x="1068.17" y="415.7" width="4.5" height="1.6" fill="#000" stroke="#000" stroke-width="1"/>
<rect x="1076" y="402.8" width="1" height="21.9" fill="#000" shape-rendering="crispEdges"/>
<rect x="1073.83" y="416.7" width="4.5" height="2.0" fill="#000" stroke="#000" stroke-width="1"/>
<rect x="1081" y="405.7" width="1" height="26.0" fill="#000" shape-rendering="crispEdges"/>
<rect x="1079.50" y="406.7" width="4.5" height="12.6" fill="#fff" stroke="#000" stroke-width="1"/>
<rect x="1087" y="396.4" width="1" height="21.3" fill="#000" shape-rendering="crispEdges"/>
<rect x="1085.16" y="406.7" width="4.5" height="10.0" fill="#000" stroke="#000" stroke-width="1"/>
<rect x="1093" y="401.4" width="1" height="31.3" fill="#000" shape-rendering="crispEdges"/>
<rect x="1090.82" y="406.7" width="4.5" height="10.6" fill="#fff" stroke="#000" stroke-width="1"/>
<rect x="1098" y="404.1" width="1" height="30.6" fill="#000" shape-rendering="crispEdges"/>
<rect x="1096.49" y="406.7" width="4.5" height="22.6" fill="#000" stroke="#000" stroke-width="1"/>
<rect x="1104" y="422.7" width="1" height="10.6" fill="#000" shape-rendering="crispEdges"/>
<rect x="1102.15" y="423.7" width="4.5" height="5.6" fill="#fff" stroke="#000" stroke-width="1"/>
<rect x="1110" y="409.3" width="1" height="22.4" fill="#000" shape-rendering="crispEdges"/>
<rect x="1107.32" y="423.2" width="5.5" height="1" fill="#000"/>
<rect x="1115" y="418.7" width="1" height="10.0" fill="#000" shape-rendering="crispEdges"/>
<rect x="1113.48" y="423.3" width="4.5" height="1.4" fill="#000" stroke="#000" stroke-width="1"/>
<rect x="1121" y="410.3" width="1" height="31.7" fill="#000" shape-rendering="crispEdges"/>
<rect x="1119.14" y="423.7" width="4.5" height="11.6" fill="#000" stroke="#000" stroke-width="1"/>
<rect x="1127" y="427.7" width="1" height="30.1" fill="#000" shape-rendering="crispEdges"/>
<rect x="1124.81" y="435.3" width="4.5" height="12.7" fill="#000" stroke="#000" stroke-width="1"/>
<rect x="1132" y="440.6" width="1" height="27.3" fill="#000" shape-rendering="crispEdges"/>
<rect x="1130.47" y="448.5" width="4.5" height="9.9" fill="#000" stroke="#000" stroke-width="1"/>
<rect x="1138" y="454.5" width="1" height="27.0" fill="#000" shape-rendering="crispEdges"/>
<rect x="1136.13" y="458.8" width="4.5" height="18.1" fill="#000" stroke="#000" stroke-width="1"/>
<rect x="1144" y="463.5" width="1" height="18.8" fill="#000" shape-rendering="crispEdges"/>
<rect x="1141.80" y="468.5" width="4.5" height="8.4" fill="#fff" stroke="#000" stroke-width="1"/>
<rect x="1149" y="464.9" width="1" height="12.0" fill="#000" shape-rendering="crispEdges"/>
<rect x="1147.46" y="466.3" width="4.5" height="1.6" fill="#fff" stroke="#000" stroke-width="1"/>
<rect x="1155" y="453.6" width="1" height="14.7" fill="#000" shape-rendering="crispEdges"/>
<rect x="1153.12" y="462.9" width="4.5" height="3.4" fill="#fff" stroke="#000" stroke-width="1"/>
<rect x="1161" y="449.4" width="1" height="17.5" fill="#000" shape-rendering="crispEdges"/>
<rect x="1158.79" y="457.4" width="4.5" height="4.9" fill="#fff" stroke="#000" stroke-width="1"/>
<rect x="1166" y="455.6" width="1" height="16.7" fill="#000" shape-rendering="crispEdges"/>
<rect x="1164.45" y="457.4" width="4.5" height="2.0" fill="#000" stroke="#000" stroke-width="1"/>
<rect x="1172" y="456.6" width="1" height="11.3" fill="#000" shape-rendering="crispEdges"/>
<rect x="1169.62" y="460.0" width="5.5" height="1" fill="#000"/>
<rect x="1178" y="456.6" width="1" height="18.9" fill="#000" shape-rendering="crispEdges"/>
<rect x="1175.78" y="460.9" width="4.5" height="10.6" fill="#000" stroke="#000" stroke-width="1"/>
<rect x="1183" y="460.3" width="1" height="15.2" fill="#000" shape-rendering="crispEdges"/>
<rect x="1181.44" y="464.9" width="4.5" height="3.0" fill="#000" stroke="#000" stroke-width="1"/>
<rect x="1189" y="462.3" width="1" height="13.2" fill="#000" shape-rendering="crispEdges"/>
<rect x="1186.61" y="468.4" width="5.5" height="1" fill="#000"/>
<rect x="1195" y="462.3" width="1" height="7.6" fill="#000" shape-rendering="crispEdges"/>
<rect x="1192.77" y="465.5" width="4.5" height="3.4" fill="#fff" stroke="#000" stroke-width="1"/>
<rect x="1200" y="462.9" width="1" height="12.6" fill="#000" shape-rendering="crispEdges"/>
<rect x="1198.43" y="465.5" width="4.5" height="8.0" fill="#000" stroke="#000" stroke-width="1"/>
<rect x="1206" y="469.9" width="1" height="15.6" fill="#000" shape-rendering="crispEdges"/>
<rect x="1204.10" y="474.9" width="4.5" height="4.0" fill="#000" stroke="#000" stroke-width="1"/>
<rect x="1212" y="472.9" width="1" height="10.0" fill="#000" shape-rendering="crispEdges"/>
<rect x="1209.26" y="479.0" width="5.5" height="1" fill="#000"/>
<rect x="1217" y="475.5" width="1" height="7.4" fill="#000" shape-rendering="crispEdges"/>
<rect x="1214.92" y="479.4" width="5.5" height="1" fill="#000"/>
<rect x="1223" y="469.5" width="1" height="16.0" fill="#000" shape-rendering="crispEdges"/>
<rect x="1221.09" y="471.5" width="4.5" height="8.0" fill="#fff" stroke="#000" stroke-width="1"/>
<rect x="1229" y="465.5" width="1" height="18.8" fill="#000" shape-rendering="crispEdges"/>
<rect x="1226.25" y="471.0" width="5.5" height="1" fill="#000"/>
<rect x="1234" y="442.2" width="1" height="33.3" fill="#000" shape-rendering="crispEdges"/>
<rect x="1232.41" y="456.4" width="4.5" height="15.5" fill="#fff" stroke="#000" stroke-width="1"/>
<rect x="1240" y="450.0" width="1" height="80.7" fill="#000" shape-rendering="crispEdges"/>
<rect x="1238.08" y="456.4" width="4.5" height="59.8" fill="#000" stroke="#000" stroke-width="1"/>
<rect x="1245" y="509.4" width="1" height="15.9" fill="#000" shape-rendering="crispEdges"/>
<rect x="1243.74" y="514.4" width="4.5" height="1.8" fill="#fff" stroke="#000" stroke-width="1"/>
<rect x="1251" y="511.4" width="1" height="16.7" fill="#000" shape-rendering="crispEdges"/>
<rect x="1249.41" y="514.8" width="4.5" height="5.0" fill="#000" stroke="#000" stroke-width="1"/>
<rect x="1257" y="513.4" width="1" height="14.3" fill="#000" shape-rendering="crispEdges"/>
<rect x="1254.57" y="519.9" width="5.5" height="1" fill="#000"/>
<rect x="1262" y="518.2" width="1" height="24.5" fill="#000" shape-rendering="crispEdges"/>
<rect x="1260.73" y="520.8" width="4.5" height="5.9" fill="#000" stroke="#000" stroke-width="1"/>
<rect x="1268" y="504.8" width="1" height="32.5" fill="#000" shape-rendering="crispEdges"/>
<rect x="1266.40" y="504.8" width="4.5" height="22.5" fill="#fff" stroke="#000" stroke-width="1"/>
<rect x="1274" y="495.4" width="1" height="31.9" fill="#000" shape-rendering="crispEdges"/>
<rect x="1272.06" y="505.4" width="4.5" height="6.0" fill="#000" stroke="#000" stroke-width="1"/>
<rect x="1279" y="511.8" width="1" height="55.7" fill="#000" shape-rendering="crispEdges"/>
<rect x="1277.72" y="511.8" width="4.5" height="39.4" fill="#000" stroke="#000" stroke-width="1"/>
<rect x="1285" y="543.6" width="1" height="16.9" fill="#000" shape-rendering="crispEdges"/>
<rect x="1282.89" y="551.6" width="5.5" height="1" fill="#000"/>
<rect x="1291" y="539.4" width="1" height="19.9" fill="#000" shape-rendering="crispEdges"/>
<rect x="1288.55" y="552.2" width="5.5" height="1" fill="#000"/>
<rect x="1296" y="540.3" width="1" height="20.8" fill="#000" shape-rendering="crispEdges"/>
<rect x="1294.71" y="550.5" width="4.5" height="7.5" fill="#000" stroke="#000" stroke-width="1"/>
<rect x="1302" y="555.9" width="1" height="33.7" fill="#000" shape-rendering="crispEdges"/>
<rect x="1300.38" y="558.7" width="4.5" height="26.6" fill="#000" stroke="#000" stroke-width="1"/>
<rect x="1308" y="541.4" width="1" height="45.9" fill="#000" shape-rendering="crispEdges"/>
<rect x="1306.04" y="555.2" width="4.5" height="31.4" fill="#fff" stroke="#000" stroke-width="1"/>
<rect x="1313" y="548.5" width="1" height="19.0" fill="#000" shape-rendering="crispEdges"/>
<rect x="1311.71" y="555.5" width="4.5" height="6.2" fill="#000" stroke="#000" stroke-width="1"/>
<rect x="1319" y="549.5" width="1" height="17.0" fill="#000" shape-rendering="crispEdges"/>
<rect x="1316.87" y="561.0" width="5.5" height="1" fill="#000"/>
<rect x="1325" y="548.5" width="1" height="19.0" fill="#000" shape-rendering="crispEdges"/>
<rect x="1323.03" y="554.8" width="4.5" height="6.5" fill="#fff" stroke="#000" stroke-width="1"/>
<rect x="1330" y="539.4" width="1" height="17.0" fill="#000" shape-rendering="crispEdges"/>
<rect x="1328.70" y="550.3" width="4.5" height="4.2" fill="#fff" stroke="#000" stroke-width="1"/>
<rect x="1336" y="542.6" width="1" height="16.9" fill="#000" shape-rendering="crispEdges"/>
<rect x="1334.36" y="550.8" width="4.5" height="5.7" fill="#000" stroke="#000" stroke-width="1"/>
<rect x="1342" y="513.4" width="1" height="65.3" fill="#000" shape-rendering="crispEdges"/>
<rect x="1340.02" y="528.3" width="4.5" height="28.0" fill="#fff" stroke="#000" stroke-width="1"/>
<rect x="1347" y="520.8" width="1" height="17.0" fill="#000" shape-rendering="crispEdges"/>
<rect x="1345.69" y="528.7" width="4.5" height="6.8" fill="#000" stroke="#000" stroke-width="1"/>
<rect x="1353" y="534.5" width="1" height="8.1" fill="#000" shape-rendering="crispEdges"/>
<rect x="1351.35" y="536.0" width="4.5" height="5.6" fill="#000" stroke="#000" stroke-width="1"/>
<rect x="1359" y="530.1" width="1" height="9.7" fill="#000" shape-rendering="crispEdges"/>
<rect x="1357.01" y="530.7" width="4.5" height="6.9" fill="#000" stroke="#000" stroke-width="1"/>
<rect x="1364" y="522.2" width="1" height="19.4" fill="#000" shape-rendering="crispEdges"/>
<rect x="1362.68" y="525.3" width="4.5" height="12.8" fill="#fff" stroke="#000" stroke-width="1"/>
<rect x="1370" y="512.2" width="1" height="13.5" fill="#000" shape-rendering="crispEdges"/>
<rect x="1368.34" y="518.8" width="4.5" height="6.5" fill="#fff" stroke="#000" stroke-width="1"/>
<rect x="1376" y="511.4" width="1" height="29.2" fill="#000" shape-rendering="crispEdges"/>
<rect x="1374.00" y="519.2" width="4.5" height="17.4" fill="#000" stroke="#000" stroke-width="1"/>
<rect x="1381" y="532.1" width="1" height="20.4" fill="#000" shape-rendering="crispEdges"/>
<rect x="1379.17" y="534.9" width="5.5" height="1" fill="#000"/>
<rect x="1387" y="519.8" width="1" height="19.6" fill="#000" shape-rendering="crispEdges"/>
<rect x="1385.33" y="520.2" width="4.5" height="14.7" fill="#fff" stroke="#000" stroke-width="1"/>
<rect x="1393" y="516.8" width="1" height="16.9" fill="#000" shape-rendering="crispEdges"/>
<rect x="1391.00" y="520.2" width="4.5" height="5.9" fill="#000" stroke="#000" stroke-width="1"/>
<rect x="1398" y="512.8" width="1" height="18.9" fill="#000" shape-rendering="crispEdges"/>
<rect x="1396.66" y="516.4" width="4.5" height="9.3" fill="#fff" stroke="#000" stroke-width="1"/>
<rect x="1404" y="502.8" width="1" height="23.3" fill="#000" shape-rendering="crispEdges"/>
<rect x="1402.32" y="506.8" width="4.5" height="10.6" fill="#fff" stroke="#000" stroke-width="1"/>
<rect x="1410" y="444.2" width="1" height="62.6" fill="#000" shape-rendering="crispEdges"/>
<rect x="1407.99" y="454.5" width="4.5" height="52.3" fill="#fff" stroke="#000" stroke-width="1"/>
<rect x="1415" y="414.8" width="1" height="42.8" fill="#000" shape-rendering="crispEdges"/>
<rect x="1413.65" y="432.7" width="4.5" height="22.5" fill="#fff" stroke="#000" stroke-width="1"/>
<rect x="1421" y="414.8" width="1" height="18.9" fill="#000" shape-rendering="crispEdges"/>
<rect x="1419.31" y="422.8" width="4.5" height="10.5" fill="#fff" stroke="#000" stroke-width="1"/>
<rect x="1427" y="420.8" width="1" height="11.9" fill="#000" shape-rendering="crispEdges"/>
<rect x="1424.98" y="422.5" width="4.5" height="1.3" fill="#fff" stroke="#000" stroke-width="1"/>
<rect x="1432" y="416.8" width="1" height="8.5" fill="#000" shape-rendering="crispEdges"/>
<rect x="1430.64" y="420.2" width="4.5" height="3.1" fill="#fff" stroke="#000" stroke-width="1"/>
<rect x="1438" y="402.8" width="1" height="25.9" fill="#000" shape-rendering="crispEdges"/>
<rect x="1436.30" y="410.4" width="4.5" height="9.8" fill="#fff" stroke="#000" stroke-width="1"/>
<rect x="1444" y="389.4" width="1" height="20.8" fill="#000" shape-rendering="crispEdges"/>
<rect x="1441.97" y="394.2" width="4.5" height="16.0" fill="#fff" stroke="#000" stroke-width="1"/>
<rect x="1449" y="374.3" width="1" height="30.5" fill="#000" shape-rendering="crispEdges"/>
<rect x="1447.63" y="376.3" width="4.5" height="17.9" fill="#fff" stroke="#000" stroke-width="1"/>
<rect x="1455" y="364.4" width="1" height="60.9" fill="#000" shape-rendering="crispEdges"/>
<rect x="1453.30" y="376.3" width="4.5" height="41.1" fill="#000" stroke="#000" stroke-width="1"/>
<rect x="1461" y="405.8" width="1" height="14.4" fill="#000" shape-rendering="crispEdges"/>
<rect x="1458.96" y="411.4" width="4.5" height="6.8" fill="#fff" stroke="#000" stroke-width="1"/>
<rect x="1466" y="403.8" width="1" height="17.6" fill="#000" shape-rendering="crispEdges"/>
<rect x="1464.62" y="408.8" width="4.5" height="2.6" fill="#fff" stroke="#000" stroke-width="1"/>
<rect x="1472" y="383.5" width="1" height="41.8" fill="#000" shape-rendering="crispEdges"/>
<rect x="1470.29" y="387.5" width="4.5" height="21.3" fill="#fff" stroke="#000" stroke-width="1"/>
<rect x="1478" y="384.3" width="1" height="54.4" fill="#000" shape-rendering="crispEdges"/>
<rect x="1475.95" y="387.9" width="4.5" height="29.9" fill="#000" stroke="#000" stroke-width="1"/>
<rect x="1483" y="412.8" width="1" height="31.3" fill="#000" shape-rendering="crispEdges"/>
<rect x="1481.61" y="418.8" width="4.5" height="11.9" fill="#000" stroke="#000" stroke-width="1"/>
<rect x="1489" y="426.7" width="1" height="17.0" fill="#000" shape-rendering="crispEdges"/>
<rect x="1486.78" y="430.2" width="5.5" height="1" fill="#000"/>
<rect x="1495" y="429.7" width="1" height="7.0" fill="#000" shape-rendering="crispEdges"/>
<rect x="1492.44" y="429.6" width="5.5" height="1" fill="#000"/>
<rect x="1500" y="419.4" width="1" height="13.3" fill="#000" shape-rendering="crispEdges"/>
<rect x="1498.60" y="424.7" width="4.5" height="6.6" fill="#fff" stroke="#000" stroke-width="1"/>
<rect x="1506" y="421.8" width="1" height="25.5" fill="#000" shape-rendering="crispEdges"/>
<rect x="1504.27" y="424.7" width="4.5" height="15.0" fill="#000" stroke="#000" stroke-width="1"/>
<rect x="1512" y="434.1" width="1" height="36.5" fill="#000" shape-rendering="crispEdges"/>
<rect x="1509.93" y="439.3" width="4.5" height="19.3" fill="#000" stroke="#000" stroke-width="1"/>
<rect x="1517" y="294.2" width="1" height="178.4" fill="#000" shape-rendering="crispEdges"/>
<rect x="1515.59" y="330.7" width="4.5" height="127.9" fill="#fff" stroke="#000" stroke-width="1"/>
<rect x="1523" y="294.2" width="1" height="41.1" fill="#000" shape-rendering="crispEdges"/>
<rect x="1521.26" y="302.8" width="4.5" height="27.9" fill="#fff" stroke="#000" stroke-width="1"/>
<rect x="1529" y="293.4" width="1" height="12.0" fill="#000" shape-rendering="crispEdges"/>
<rect x="1526.92" y="294.2" width="4.5" height="8.6" fill="#fff" stroke="#000" stroke-width="1"/>
<rect x="1534" y="299.4" width="1" height="25.3" fill="#000" shape-rendering="crispEdges"/>
<rect x="1532.59" y="318.8" width="4.5" height="2.6" fill="#fff" stroke="#000" stroke-width="1"/>
<rect x="1540" y="317.4" width="1" height="32.4" fill="#000" shape-rendering="crispEdges"/>
<rect x="1538.25" y="319.4" width="4.5" height="25.4" fill="#000" stroke="#000" stroke-width="1"/>
<rect x="1546" y="341.4" width="1" height="15.6" fill="#000" shape-rendering="crispEdges"/>
<rect x="1543.91" y="345.6" width="4.5" height="5.2" fill="#000" stroke="#000" stroke-width="1"/>
<rect x="1551" y="344.2" width="1" height="30.0" fill="#000" shape-rendering="crispEdges"/>
<rect x="1549.58" y="351.2" width="4.5" height="14.8" fill="#000" stroke="#000" stroke-width="1"/>
<rect x="1557" y="362.4" width="1" height="21.9" fill="#000" shape-rendering="crispEdges"/>
<rect x="1555.24" y="366.8" width="4.5" height="6.7" fill="#000" stroke="#000" stroke-width="1"/>
<rect x="1563" y="361.4" width="1" height="14.4" fill="#000" shape-rendering="crispEdges"/>
<rect x="1560.90" y="369.0" width="4.5" height="6.8" fill="#fff" stroke="#000" stroke-width="1"/>
<rect x="1568" y="365.4" width="1" height="12.0" fill="#000" shape-rendering="crispEdges"/>
<rect x="1566.07" y="369.0" width="5.5" height="1" fill="#000"/>
<rect x="1574" y="346.5" width="1" height="23.3" fill="#000" shape-rendering="crispEdges"/>
<rect x="1572.23" y="347.6" width="4.5" height="21.2" fill="#fff" stroke="#000" stroke-width="1"/>
<rect x="1580" y="336.3" width="1" height="35.2" fill="#000" shape-rendering="crispEdges"/>
<rect x="1577.89" y="348.0" width="4.5" height="20.4" fill="#000" stroke="#000" stroke-width="1"/>
<rect x="1585" y="364.4" width="1" height="40.4" fill="#000" shape-rendering="crispEdges"/>
<rect x="1583.56" y="369.4" width="4.5" height="32.8" fill="#000" stroke="#000" stroke-width="1"/>
<rect x="1591" y="393.4" width="1" height="29.9" fill="#000" shape-rendering="crispEdges"/>
<rect x="1589.22" y="402.2" width="4.5" height="11.2" fill="#000" stroke="#000" stroke-width="1"/>
<rect x="1597" y="411.8" width="1" height="9.0" fill="#000" shape-rendering="crispEdges"/>
<rect x="1594.89" y="413.4" width="4.5" height="3.4" fill="#000" stroke="#000" stroke-width="1"/>
</g>
<path d="M0.0,291.7 C3.3,290.2 13.2,285.6 19.9,282.8 C26.5,280.0 33.2,277.3 39.9,274.8 C46.5,272.3 54.7,269.2 59.8,267.8 C64.9,266.4 67.0,266.6 70.3,266.2 C73.6,265.8 76.8,265.3 79.8,265.2 C82.8,265.1 85.3,265.1 88.0,265.3 C90.7,265.5 92.4,265.6 95.7,266.2 C99.0,266.8 103.1,266.2 107.7,268.8 C112.3,271.4 118.3,277.3 123.6,281.8 C128.9,286.3 133.9,291.1 139.6,295.7 C145.2,300.3 151.5,306.5 157.5,309.7 C163.5,312.9 169.8,312.0 175.5,314.7 C181.2,317.4 186.1,322.3 191.4,325.6 C196.7,328.9 202.8,332.6 207.4,334.6 C212.1,336.6 214.7,337.6 219.3,337.6 C224.0,337.6 230.0,335.4 235.3,334.6 C240.6,333.8 245.5,333.6 251.2,332.6 C256.8,331.6 263.2,330.1 269.2,328.6 C275.2,327.1 280.8,326.1 287.1,323.6 C293.4,321.1 301.1,316.5 307.1,313.7 C313.1,310.9 317.5,308.7 323.0,306.7 C328.5,304.7 335.5,303.0 340.0,301.7 C344.5,300.4 344.9,301.0 349.9,298.7 C354.9,296.4 362.2,291.9 369.9,287.7 C377.5,283.5 389.2,277.8 395.8,273.7 C402.4,269.6 405.1,265.9 409.7,262.8 C414.3,259.8 418.7,256.7 423.7,255.4 C428.7,254.1 434.0,254.0 439.6,254.8 C445.2,255.6 452.3,260.4 457.6,260.2 C462.9,260.0 466.9,255.8 471.5,253.8 C476.1,251.8 480.8,249.5 485.5,248.2 C490.2,246.9 494.5,246.0 499.5,246.2 C504.5,246.4 510.1,248.2 515.4,249.2 C520.7,250.2 525.8,251.4 531.4,252.2 C537.0,253.0 543.0,253.3 549.3,254.2 C555.6,255.1 563.0,256.3 569.3,257.8 C575.6,259.3 580.9,260.9 587.2,263.4 C593.5,265.9 600.5,269.2 607.1,272.8 C613.8,276.4 621.1,280.6 627.1,284.7 C633.1,288.8 638.9,293.8 643.0,297.7 C647.1,301.6 648.5,304.8 652.0,307.9 C655.5,311.0 659.2,314.3 663.9,316.3 C668.5,318.3 674.6,318.1 679.9,319.9 C685.2,321.6 690.5,324.8 695.8,326.8 C701.1,328.9 706.5,331.4 711.8,332.2 C717.1,333.0 722.4,331.7 727.7,331.4 C733.0,331.1 738.4,330.2 743.7,330.4 C749.0,330.6 754.6,332.2 759.6,332.8 C764.6,333.4 768.6,333.1 773.6,334.2 C778.6,335.3 783.6,337.2 789.6,339.4 C795.6,341.6 802.9,344.1 809.5,347.4 C816.1,350.7 822.8,355.6 829.4,359.3 C836.0,363.0 842.8,366.4 849.4,369.7 C856.0,373.0 862.6,376.9 869.3,379.3 C875.9,381.7 882.6,383.3 889.3,384.1 C895.9,384.9 902.6,384.7 909.2,384.1 C915.8,383.5 922.8,381.8 929.1,380.7 C935.4,379.6 941.5,377.5 947.1,377.3 C952.8,377.1 958.2,378.8 963.0,379.3 C967.8,379.8 970.9,380.4 976.0,380.2 C981.1,380.0 986.6,377.8 993.9,378.2 C1001.2,378.6 1010.5,380.9 1019.8,382.8 C1029.1,384.7 1041.0,387.7 1049.7,389.4 C1058.4,391.1 1064.7,391.8 1071.7,392.8 C1078.7,393.8 1084.3,395.1 1091.6,395.4 C1098.9,395.7 1107.5,394.2 1115.5,394.8 C1123.5,395.4 1130.5,397.1 1139.5,398.8 C1148.5,400.6 1160.1,403.2 1169.4,405.3 C1178.7,407.4 1187.7,409.1 1195.3,411.3 C1202.9,413.5 1207.9,416.0 1215.2,418.7 C1222.5,421.4 1231.9,424.9 1239.2,427.7 C1246.5,430.5 1252.5,432.7 1259.1,435.7 C1265.7,438.7 1272.2,442.0 1279.0,445.6 C1285.8,449.2 1294.8,454.6 1299.9,457.6 C1305.0,460.7 1304.5,460.7 1309.4,463.9 C1314.3,467.1 1322.7,473.0 1329.3,476.9 C1335.9,480.8 1342.6,484.2 1349.3,487.5 C1356.0,490.8 1364.1,494.6 1369.2,496.8 C1374.3,499.0 1376.7,499.2 1380.0,500.5 C1383.3,501.8 1385.9,503.6 1389.2,504.8 C1392.5,506.0 1395.9,506.8 1399.7,507.5 C1403.5,508.2 1406.2,509.4 1412.3,508.9 C1418.4,508.4 1426.4,506.8 1436.3,504.7 C1446.2,502.6 1461.3,498.6 1471.4,496.5 C1481.5,494.4 1489.9,492.8 1496.7,491.8 C1503.5,490.8 1508.5,491.2 1512.2,490.4 C1516.0,489.6 1515.5,489.6 1519.2,487.1 C1523.0,484.6 1528.6,479.2 1534.7,475.2 C1540.8,471.2 1549.2,467.2 1555.8,463.2 C1562.4,459.2 1569.2,454.5 1574.1,451.3 C1579.0,448.1 1581.5,446.3 1585.3,444.2 C1589.1,442.1 1594.9,439.4 1596.8,438.5" fill="none" stroke="#ff8c00" stroke-width="1" stroke-linejoin="round"/>
<path d="M0.0,416.8 C2.0,416.0 5.4,415.0 12.0,411.8 C18.6,408.6 30.6,402.3 39.9,397.8 C49.2,393.3 60.5,387.7 67.8,384.9 C75.1,382.1 77.0,383.1 83.7,380.9 C90.4,378.7 95.7,376.2 107.7,371.9 C119.7,367.6 143.5,359.8 155.5,355.0 C167.5,350.2 173.2,345.5 179.5,343.0 C185.8,340.5 187.4,341.9 193.4,340.0 C199.4,338.1 207.8,334.5 215.4,331.6 C223.1,328.7 228.7,326.3 239.3,322.6 C249.9,318.9 267.2,313.6 279.2,309.3 C291.2,305.0 303.8,299.6 311.1,296.7 C318.4,293.8 318.2,293.4 323.0,291.7 C327.8,290.0 335.5,287.8 340.0,286.3 C344.5,284.8 343.9,284.7 349.9,282.7 C355.9,280.7 368.5,275.9 375.8,274.1 C383.1,272.4 386.5,272.0 393.8,272.2 C401.1,272.4 412.1,273.6 419.7,275.3 C427.3,277.0 432.3,280.0 439.6,282.1 C446.9,284.2 455.3,286.6 463.6,288.1 C471.9,289.6 480.2,290.5 489.5,291.3 C498.8,292.1 511.1,292.5 519.4,292.7 C527.7,292.9 532.0,292.9 539.3,292.7 C546.6,292.5 556.6,291.9 563.3,291.3 C569.9,290.7 573.2,289.5 579.2,289.1 C585.2,288.7 592.6,288.3 599.2,288.7 C605.9,289.1 612.5,290.5 619.1,291.7 C625.7,292.9 631.5,294.6 639.0,295.7 C646.5,296.8 657.1,298.4 663.9,298.5 C670.7,298.6 673.9,297.1 679.9,296.3 C685.9,295.5 692.5,294.4 699.8,293.9 C707.1,293.4 717.1,293.2 723.7,293.5 C730.4,293.8 733.7,295.7 739.7,295.5 C745.7,295.3 753.6,293.2 759.6,292.3 C765.6,291.4 770.9,289.9 775.6,289.9 C780.3,289.9 782.0,290.6 787.6,292.3 C793.2,294.0 800.9,296.8 809.5,299.9 C818.1,303.0 829.4,307.2 839.4,310.9 C849.4,314.6 859.3,318.5 869.3,322.2 C879.3,325.9 889.2,329.5 899.2,332.8 C909.2,336.1 919.1,339.0 929.1,341.8 C939.1,344.6 949.9,347.6 959.0,349.8 C968.1,352.0 976.4,353.9 983.9,354.9 C991.4,355.8 996.2,355.0 1003.9,355.5 C1011.5,356.0 1020.5,356.6 1029.8,357.9 C1039.1,359.2 1049.7,361.2 1059.7,363.5 C1069.7,365.8 1079.6,368.7 1089.6,371.4 C1099.6,374.1 1109.5,376.7 1119.5,379.8 C1129.5,382.9 1141.1,387.3 1149.4,389.8 C1157.7,392.3 1161.1,393.4 1169.4,394.8 C1177.7,396.2 1188.7,397.2 1199.3,398.2 C1209.9,399.2 1224.9,399.6 1233.2,400.8 C1241.5,402.0 1243.1,403.9 1249.1,405.3 C1255.1,406.7 1263.4,408.2 1269.1,409.3 C1274.8,410.4 1278.5,410.9 1283.0,412.1 C1287.5,413.4 1290.5,414.4 1296.0,416.8 C1301.5,419.2 1308.9,423.3 1315.9,426.7 C1322.9,430.1 1327.8,433.7 1337.8,437.1 C1347.8,440.5 1364.1,444.5 1375.7,447.1 C1387.3,449.7 1397.0,451.6 1407.6,452.7 C1418.2,453.8 1428.9,453.5 1439.5,453.5 C1450.1,453.5 1462.6,452.6 1471.4,452.8 C1480.2,453.0 1485.7,454.0 1492.5,454.8 C1499.3,455.6 1506.1,457.5 1512.2,457.4 C1518.3,457.3 1523.0,455.0 1529.1,454.1 C1535.2,453.2 1540.8,452.5 1548.8,452.0 C1556.8,451.5 1568.9,451.0 1576.9,451.1 C1584.9,451.2 1593.5,452.6 1596.8,452.9" fill="none" stroke="#0b55b8" stroke-width="1" stroke-linejoin="round"/>
<path d="M0.0,426.3 C6.6,424.9 26.6,420.7 39.9,417.8 C53.2,414.9 67.8,410.9 79.8,408.8 C91.8,406.7 100.4,405.7 111.7,405.4 C123.0,405.1 136.3,407.4 147.6,407.2 C158.9,407.0 168.2,404.2 179.5,404.2 C190.8,404.2 202.1,407.4 215.4,407.2 C228.7,407.0 245.2,404.5 259.2,402.8 C273.1,401.1 285.6,398.7 299.1,396.8 C312.6,394.9 329.9,392.8 340.0,391.4 C350.1,390.0 349.9,389.7 359.9,388.4 C369.9,387.1 386.5,385.2 399.8,383.8 C413.1,382.4 426.3,382.0 439.6,380.2 C452.9,378.4 466.2,375.7 479.5,372.9 C492.8,370.1 506.1,366.7 519.4,363.5 C532.7,360.3 546.0,357.0 559.3,353.9 C572.6,350.8 587.6,347.2 599.2,345.0 C610.8,342.8 619.0,341.7 629.1,340.4 C639.2,339.1 653.2,338.0 660.0,337.2 C666.8,336.4 663.3,336.9 669.9,335.4 C676.5,333.9 689.8,330.5 699.8,328.2 C709.8,325.9 719.7,323.4 729.7,321.4 C739.7,319.3 751.3,317.4 759.6,315.9 C767.9,314.4 773.0,313.1 779.6,312.3 C786.2,311.5 789.5,311.1 799.5,310.9 C809.5,310.7 826.1,311.0 839.4,310.9 C852.7,310.8 866.0,310.7 879.3,310.5 C892.6,310.3 907.6,309.9 919.2,309.9 C930.8,309.9 940.8,309.9 949.1,310.3 C957.4,310.7 963.9,311.8 969.0,312.5 C974.1,313.2 973.2,313.1 980.0,314.3 C986.8,315.6 996.6,317.7 1009.9,320.0 C1023.2,322.3 1043.1,325.6 1059.7,328.0 C1076.3,330.4 1093.0,332.2 1109.6,334.4 C1126.2,336.5 1144.5,338.9 1159.4,340.9 C1174.4,342.9 1186.0,344.9 1199.3,346.5 C1212.6,348.1 1227.6,349.5 1239.2,350.3 C1250.8,351.1 1261.8,351.1 1269.1,351.5 C1276.4,351.9 1276.9,351.8 1283.0,353.0 C1289.1,354.2 1295.8,356.9 1305.9,358.9 C1316.0,360.9 1333.2,362.7 1343.8,364.9 C1354.4,367.1 1359.7,369.6 1369.7,372.3 C1379.7,375.0 1392.0,378.4 1403.6,380.9 C1415.2,383.4 1426.9,385.3 1439.5,387.5 C1452.1,389.7 1466.8,391.9 1479.4,394.2 C1492.0,396.5 1505.8,400.0 1515.3,401.4 C1524.8,402.8 1529.2,402.4 1536.5,402.8 C1543.8,403.2 1552.5,403.6 1559.2,403.8 C1565.9,404.0 1570.1,403.5 1576.4,403.8 C1582.7,404.1 1593.4,405.1 1596.8,405.4" fill="none" stroke="#ff10f0" stroke-width="1.1" stroke-linejoin="round"/>
<rect x="0" y="417" width="1630" height="1" fill="#2c4a78" shape-rendering="crispEdges"/>
<g shape-rendering="crispEdges">
<rect x="0" y="0" width="1631" height="1" fill="#d5dcee"/>
<rect x="0" y="0" width="1" height="687" fill="#d3d8ea"/>
<rect x="1630" y="0" width="1" height="687" fill="#d3d8ea"/>
<rect x="0" y="686" width="1631" height="1" fill="#d3d8ea"/>
</g>
<g fill="#666">
<rect x="1631" y="11.95" width="5" height="1"/>
<rect x="1631" y="35.58" width="5" height="1"/>
<rect x="1631" y="59.22" width="5" height="1"/>
<rect x="1631" y="82.85" width="5" height="1"/>
<rect x="1631" y="106.48" width="5" height="1"/>
<rect x="1631" y="130.11" width="5" height="1"/>
<rect x="1631" y="153.75" width="5" height="1"/>
<rect x="1631" y="177.38" width="5" height="1"/>
<rect x="1631" y="201.01" width="5" height="1"/>
<rect x="1631" y="224.65" width="5" height="1"/>
<rect x="1631" y="248.28" width="5" height="1"/>
<rect x="1631" y="271.91" width="5" height="1"/>
<rect x="1631" y="295.55" width="5" height="1"/>
<rect x="1631" y="319.18" width="5" height="1"/>
<rect x="1631" y="342.81" width="5" height="1"/>
<rect x="1631" y="366.44" width="5" height="1"/>
<rect x="1631" y="390.08" width="5" height="1"/>
<rect x="1631" y="413.71" width="5" height="1"/>
<rect x="1631" y="437.34" width="5" height="1"/>
<rect x="1631" y="460.98" width="5" height="1"/>
<rect x="1631" y="484.61" width="5" height="1"/>
<rect x="1631" y="508.24" width="5" height="1"/>
<rect x="1631" y="531.88" width="5" height="1"/>
<rect x="1631" y="555.51" width="5" height="1"/>
<rect x="1631" y="579.14" width="5" height="1"/>
<rect x="1631" y="602.77" width="5" height="1"/>
<rect x="1631" y="626.41" width="5" height="1"/>
<rect x="1631" y="650.04" width="5" height="1"/>
<rect x="1631" y="673.67" width="5" height="1"/>
</g>
<text class="ax" x="1638.4" y="16.15">1.3475</text>
<text class="ax" x="1638.4" y="39.78">1.3450</text>
<text class="ax" x="1638.4" y="63.42">1.3425</text>
<text class="ax" x="1638.4" y="87.05">1.3400</text>
<text class="ax" x="1638.4" y="110.68">1.3375</text>
<text class="ax" x="1638.4" y="134.31">1.3350</text>
<text class="ax" x="1638.4" y="157.95">1.3325</text>
<text class="ax" x="1638.4" y="181.58">1.3300</text>
<text class="ax" x="1638.4" y="205.21">1.3275</text>
<text class="ax" x="1638.4" y="228.85">1.3250</text>
<text class="ax" x="1638.4" y="252.48">1.3225</text>
<text class="ax" x="1638.4" y="276.11">1.3200</text>
<text class="ax" x="1638.4" y="299.75">1.3175</text>
<text class="ax" x="1638.4" y="323.38">1.3150</text>
<text class="ax" x="1638.4" y="347.01">1.3125</text>
<text class="ax" x="1638.4" y="370.64">1.3100</text>
<text class="ax" x="1638.4" y="394.28">1.3075</text>
<text class="ax" x="1638.4" y="417.91">1.3050</text>
<text class="ax" x="1638.4" y="441.54">1.3025</text>
<text class="ax" x="1638.4" y="465.18">1.3000</text>
<text class="ax" x="1638.4" y="488.81">1.2975</text>
<text class="ax" x="1638.4" y="512.44">1.2950</text>
<text class="ax" x="1638.4" y="536.08">1.2925</text>
<text class="ax" x="1638.4" y="559.71">1.2900</text>
<text class="ax" x="1638.4" y="583.34">1.2875</text>
<text class="ax" x="1638.4" y="606.98">1.2850</text>
<text class="ax" x="1638.4" y="630.61">1.2825</text>
<text class="ax" x="1638.4" y="654.24">1.2800</text>
<text class="ax" x="1638.4" y="677.87">1.2775</text>
<g shape-rendering="crispEdges" fill="#666">
<rect x="0" y="687" width="1" height="2"/>
<rect x="28" y="687" width="1" height="2"/>
<rect x="62" y="687" width="1" height="2"/>
<rect x="96" y="687" width="1" height="2"/>
<rect x="130" y="687" width="1" height="2"/>
<rect x="169" y="687" width="1" height="2"/>
<rect x="203" y="687" width="1" height="2"/>
<rect x="237" y="687" width="1" height="2"/>
<rect x="271" y="687" width="1" height="2"/>
<rect x="305" y="687" width="1" height="2"/>
<rect x="345" y="687" width="1" height="2"/>
<rect x="379" y="687" width="1" height="2"/>
<rect x="413" y="687" width="1" height="2"/>
<rect x="447" y="687" width="1" height="2"/>
<rect x="481" y="687" width="1" height="2"/>
<rect x="521" y="687" width="1" height="2"/>
<rect x="555" y="687" width="1" height="2"/>
<rect x="589" y="687" width="1" height="2"/>
<rect x="622" y="687" width="1" height="2"/>
<rect x="662" y="687" width="1" height="2"/>
<rect x="696" y="687" width="1" height="2"/>
<rect x="730" y="687" width="1" height="2"/>
<rect x="764" y="687" width="1" height="2"/>
<rect x="798" y="687" width="1" height="2"/>
<rect x="832" y="687" width="1" height="2"/>
<rect x="872" y="687" width="1" height="2"/>
<rect x="906" y="687" width="1" height="2"/>
<rect x="940" y="687" width="1" height="2"/>
<rect x="974" y="687" width="1" height="2"/>
<rect x="1008" y="687" width="1" height="2"/>
<rect x="1047" y="687" width="1" height="2"/>
<rect x="1081" y="687" width="1" height="2"/>
<rect x="1115" y="687" width="1" height="2"/>
<rect x="1149" y="687" width="1" height="2"/>
<rect x="1183" y="687" width="1" height="2"/>
<rect x="1223" y="687" width="1" height="2"/>
<rect x="1257" y="687" width="1" height="2"/>
<rect x="1291" y="687" width="1" height="2"/>
<rect x="1325" y="687" width="1" height="2"/>
<rect x="1359" y="687" width="1" height="2"/>
<rect x="1398" y="687" width="1" height="2"/>
<rect x="1432" y="687" width="1" height="2"/>
<rect x="1466" y="687" width="1" height="2"/>
<rect x="1500" y="687" width="1" height="2"/>
<rect x="1534" y="687" width="1" height="2"/>
<rect x="1574" y="687" width="1" height="2"/>
<rect x="1608" y="687" width="1" height="2"/>
</g>
<text class="ax" style="font-size:11px" x="0.3" y="703">Mar</text>
<text class="ax" style="font-size:11px" x="28.8" y="703" text-anchor="middle">6</text>
<text class="ax" style="font-size:11px" x="62.8" y="703" text-anchor="middle">7</text>
<text class="ax" style="font-size:11px" x="96.8" y="703" text-anchor="middle">8</text>
<text class="ax" style="font-size:11px" x="130.8" y="703" text-anchor="middle">10</text>
<text class="ax" style="font-size:11px" x="170.4" y="703" text-anchor="middle">12</text>
<text class="ax" style="font-size:11px" x="204.4" y="703" text-anchor="middle">13</text>
<text class="ax" style="font-size:11px" x="238.4" y="703" text-anchor="middle">14</text>
<text class="ax" style="font-size:11px" x="272.4" y="703" text-anchor="middle">15</text>
<text class="ax" style="font-size:11px" x="306.3" y="703" text-anchor="middle">17</text>
<text class="ax" style="font-size:11px" x="346.0" y="703" text-anchor="middle">19</text>
<text class="ax" style="font-size:11px" x="380.0" y="703" text-anchor="middle">20</text>
<text class="ax" style="font-size:11px" x="413.9" y="703" text-anchor="middle">21</text>
<text class="ax" style="font-size:11px" x="447.9" y="703" text-anchor="middle">22</text>
<text class="ax" style="font-size:11px" x="481.9" y="703" text-anchor="middle">24</text>
<text class="ax" style="font-size:11px" x="521.6" y="703" text-anchor="middle">26</text>
<text class="ax" style="font-size:11px" x="555.5" y="703" text-anchor="middle">27</text>
<text class="ax" style="font-size:11px" x="589.5" y="703" text-anchor="middle">28</text>
<text class="ax" style="font-size:11px" x="623.5" y="703" text-anchor="middle">29</text>
<text class="ax" style="font-size:11px" x="663.1" y="703" text-anchor="middle">Apr</text>
<text class="ax" style="font-size:11px" x="697.1" y="703" text-anchor="middle">2</text>
<text class="ax" style="font-size:11px" x="731.1" y="703" text-anchor="middle">3</text>
<text class="ax" style="font-size:11px" x="765.1" y="703" text-anchor="middle">4</text>
<text class="ax" style="font-size:11px" x="799.1" y="703" text-anchor="middle">5</text>
<text class="ax" style="font-size:11px" x="833.0" y="703" text-anchor="middle">7</text>
<text class="ax" style="font-size:11px" x="872.7" y="703" text-anchor="middle">9</text>
<text class="ax" style="font-size:11px" x="906.7" y="703" text-anchor="middle">10</text>
<text class="ax" style="font-size:11px" x="940.7" y="703" text-anchor="middle">11</text>
<text class="ax" style="font-size:11px" x="974.6" y="703" text-anchor="middle">12</text>
<text class="ax" style="font-size:11px" x="1008.6" y="703" text-anchor="middle">14</text>
<text class="ax" style="font-size:11px" x="1048.3" y="703" text-anchor="middle">16</text>
<text class="ax" style="font-size:11px" x="1082.2" y="703" text-anchor="middle">17</text>
<text class="ax" style="font-size:11px" x="1116.2" y="703" text-anchor="middle">18</text>
<text class="ax" style="font-size:11px" x="1150.2" y="703" text-anchor="middle">19</text>
<text class="ax" style="font-size:11px" x="1184.2" y="703" text-anchor="middle">21</text>
<text class="ax" style="font-size:11px" x="1223.8" y="703" text-anchor="middle">23</text>
<text class="ax" style="font-size:11px" x="1257.8" y="703" text-anchor="middle">24</text>
<text class="ax" style="font-size:11px" x="1291.8" y="703" text-anchor="middle">25</text>
<text class="ax" style="font-size:11px" x="1325.8" y="703" text-anchor="middle">26</text>
<text class="ax" style="font-size:11px" x="1359.8" y="703" text-anchor="middle">28</text>
<text class="ax" style="font-size:11px" x="1399.4" y="703" text-anchor="middle">30</text>
<text class="ax" style="font-size:11px" x="1433.4" y="703" text-anchor="middle">May</text>
<text class="ax" style="font-size:11px" x="1467.4" y="703" text-anchor="middle">2</text>
<text class="ax" style="font-size:11px" x="1501.4" y="703" text-anchor="middle">3</text>
<text class="ax" style="font-size:11px" x="1535.3" y="703" text-anchor="middle">5</text>
<text class="ax" style="font-size:11px" x="1575.0" y="703" text-anchor="middle">7</text>
<text class="ax" style="font-size:11px" x="1609.0" y="703" text-anchor="middle">8</text>
<path d="M1631,417.3 L1634.5,413.3 L1634.5,421.3 Z" fill="#2f4e7e"/>
<rect x="1633.7" y="410.2" width="48.6" height="14.5" rx="1.5" fill="#2f4e7e"/>
<text x="1638.5" y="421.8" class="lg" style="font-size:11px">1.30465</text>
<rect x="5" y="5" width="80" height="22" fill="#636363" shape-rendering="crispEdges"/>
<rect x="5" y="5" width="3" height="22" fill="#000" shape-rendering="crispEdges"/>
<text class="lg" x="17" y="20.8">GBP/USD</text>
<rect x="5" y="32" width="85" height="22" fill="#636363" shape-rendering="crispEdges"/>
<rect x="5" y="32" width="3" height="22" fill="#ff8c00" shape-rendering="crispEdges"/>
<text class="lg" x="17" y="47.8">SMA (50,0)</text>
<rect x="5" y="59" width="91" height="22" fill="#636363" shape-rendering="crispEdges"/>
<rect x="5" y="59" width="3" height="22" fill="#0044bb" shape-rendering="crispEdges"/>
<text class="lg" x="17" y="74.8">SMA (100,0)</text>
<rect x="5" y="86" width="91" height="22" fill="#636363" shape-rendering="crispEdges"/>
<rect x="5" y="86" width="3" height="22" fill="#ff00ee" shape-rendering="crispEdges"/>
<text class="lg" x="17" y="101.8">SMA (200,0)</text>
</svg></body></html>
